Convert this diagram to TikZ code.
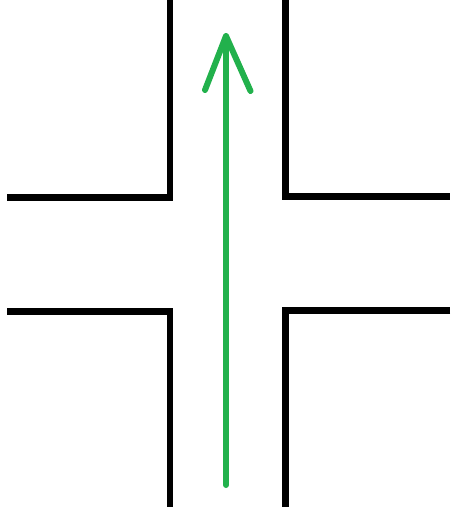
\documentclass[tikz,border=0pt]{standalone}
\definecolor{paintgreen}{RGB}{34,177,76}
\begin{document}
\begin{tikzpicture}[x=1pt,y=-1pt,
  wall/.style={draw=black,line width=6.5pt,line join=miter},
  arrowline/.style={draw=paintgreen,line width=6pt,line cap=round,line join=round}]
\useasboundingbox (0,0) rectangle (450,511);
% walls
\draw[wall] (170,0) -- (170,197.5) -- (7,197.5);
\draw[wall] (285.5,0) -- (285.5,196.5) -- (450,196.5);
\draw[wall] (7,311.5) -- (170,311.5) -- (170,507);
\draw[wall] (450,310.5) -- (285.5,310.5) -- (285.5,507);
% arrow
\coordinate (tail) at (226,485);
\coordinate (tip) at (226,36);
\coordinate (armL) at (205,90);
\coordinate (armR) at (250.5,91);
\draw[arrowline] (tail) -- (tip);
\draw[arrowline] (armL) -- (tip) -- (armR);
\end{tikzpicture}
\end{document}
